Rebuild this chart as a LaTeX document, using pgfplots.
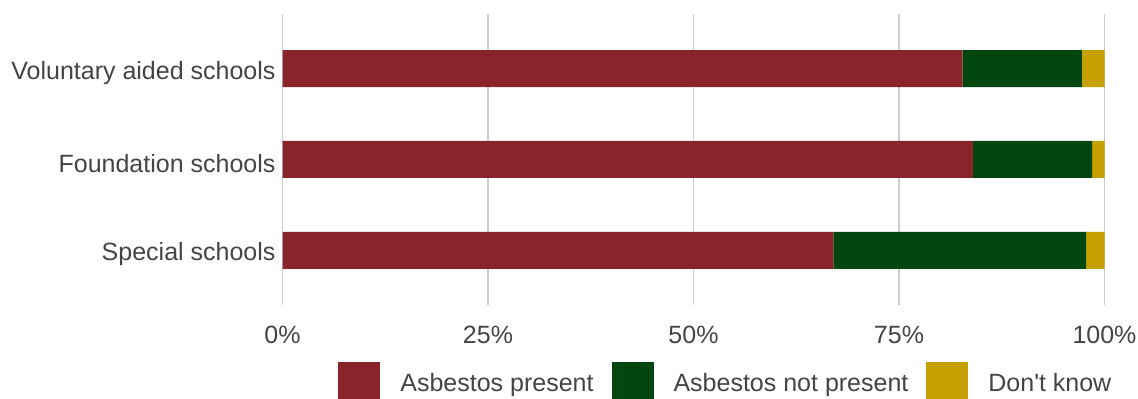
\documentclass[border=0pt]{standalone}
\usepackage{pgfplots}
\pgfplotsset{compat=1.18}
\usepackage{fontspec}
\setmainfont{Liberation Sans}
\definecolor{cRed}{RGB}{138,36,43}
\definecolor{cGreen}{RGB}{2,70,16}
\definecolor{cYellow}{RGB}{196,160,0}
\definecolor{cText}{RGB}{68,68,68}
\definecolor{cGrid}{RGB}{204,204,204}
\pgfplotsset{sqlegend/.style={legend image code/.code={\fill[##1] (0pt,-11pt) rectangle (21pt,11pt);}}}
\begin{document}
\begin{tikzpicture}
\begin{axis}[
  at={(141.25pt,47pt)}, anchor=south west,
  scale only axis, width=411pt, height=145.5pt,
  xbar stacked, bar width=18.5pt,
  xmin=0, xmax=100, ymin=-0.6, ymax=2.6,
  xtick={0,25,50,75,100},
  xticklabel={\pgfmathprintnumber{\tick}\%},
  ytick={0,1,2},
  yticklabels={Special schools, Foundation schools, Voluntary aided schools},
  axis line style={draw=none},
  major tick length=0pt,
  xmajorgrids, grid style={cGrid, line width=0.7pt},
  tick label style={font=\fontsize{12.5}{15}\selectfont, text=cText},
  xticklabel style={yshift=-7pt},
  yticklabel style={yshift=-2pt},
  /pgf/number format/assume math mode=true,
  legend columns=3,
  legend cell align=left,
  legend style={at={(axis description cs:0.0675,-0.196)}, anchor=north west,
    draw=none, fill=none, inner sep=0pt,
    font=\fontsize{12.5}{15}\selectfont, text=cText,
    nodes={inner sep=0pt, text=cText},
    /tikz/every even column/.append style={column sep=9pt},
    /tikz/every odd column/.append style={column sep=10pt}},
]
\addplot[fill=cRed, draw=none, sqlegend] coordinates {(67.0,0) (84.0,1) (82.75,2)};
\addlegendentry{Asbestos present}
\addplot[fill=cGreen, draw=none, sqlegend] coordinates {(30.75,0) (14.5,1) (14.5,2)};
\addlegendentry{Asbestos not present}
\addplot[fill=cYellow, draw=none, sqlegend] coordinates {(2.25,0) (1.5,1) (2.75,2)};
\addlegendentry{Don\textquotesingle t know}
\end{axis}
\pgfresetboundingbox
\useasboundingbox (0,0) rectangle (569pt,199.5pt);
\end{tikzpicture}
\end{document}
